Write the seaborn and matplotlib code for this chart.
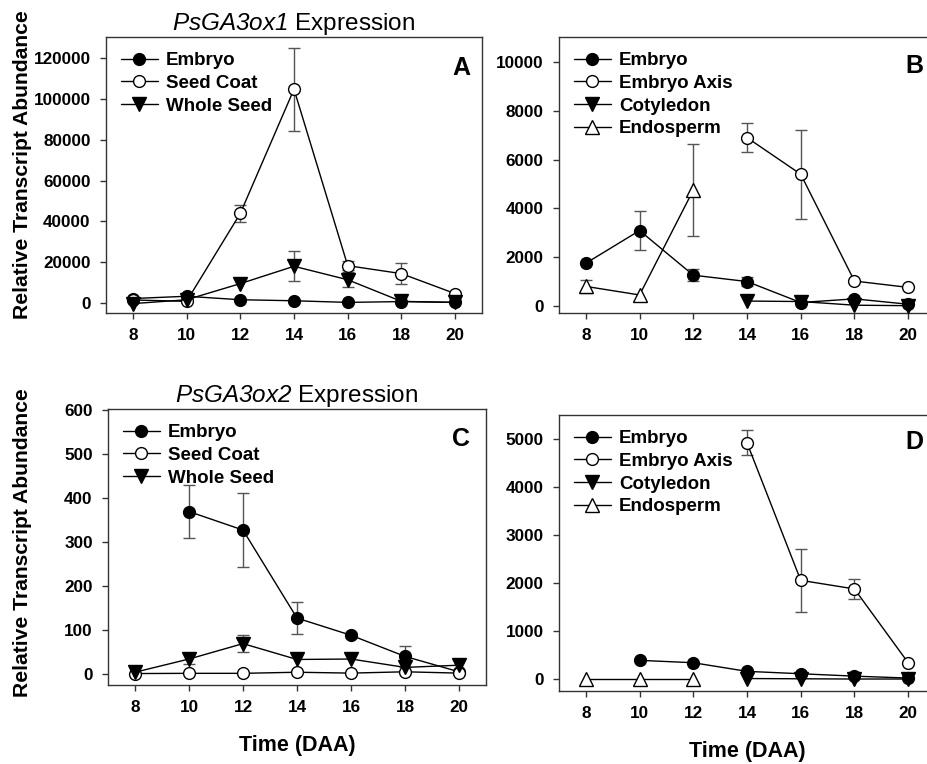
import numpy as np
import matplotlib
matplotlib.use('Agg')
import matplotlib.pyplot as plt
import seaborn as sns

nan = np.nan
days = [8, 10, 12, 14, 16, 18, 20]

# Panel A - PsGA3ox1 (embryo / seed coat / whole seed)
a_embryo = [2200, 3300, 1600, 1100, 300, 700, 300]
a_coat = [1500, 800, 43900, 104800, 18300, 14400, 4600]
a_coat_se = [nan, nan, 4300, 20300, 2200, 5200, 900]
a_whole = [-300, 1600, 9500, 18000, 11400, 800, 300]
a_whole_se = [nan, nan, nan, 7300, 3600, nan, nan]

# Panel B - PsGA3ox1 (embryo / axis / cotyledon / endosperm)
b_embryo = [1750, 3090, 1260, 1000, 140, 290, 70]
b_embryo_se = [nan, 800, 250, 200, nan, nan, nan]
b_axis = [nan, nan, nan, 6900, 5400, 1020, 760]
b_axis_se = [nan, nan, nan, 600, 1820, nan, nan]
b_coty = [nan, nan, nan, 200, 180, 30, 10]
b_endo = [800, 450, 4750, nan, nan, nan, nan]
b_endo_se = [280, nan, 1880, nan, nan, nan, nan]

# Panel C - PsGA3ox2 (embryo / seed coat / whole seed)
c_embryo = [nan, 369, 327, 127, 88, 40, 5]
c_embryo_se = [nan, 61, 84, 37, 6, 23, nan]
c_coat = [1, 1.5, 1.5, 4, 2, 5, 2]
c_whole = [4, 34, 69, 33, 34, 15, 20]
c_whole_se = [nan, 11, 19, nan, nan, nan, 14]

# Panel D - PsGA3ox2 (embryo / axis / cotyledon / endosperm)
d_embryo = [nan, 390, 340, 160, 110, 60, 20]
d_axis = [nan, nan, nan, 4930, 2060, 1880, 340]
d_axis_se = [nan, nan, nan, 260, 660, 210, nan]
d_coty = [nan, nan, nan, 10, 5, 0, 0]
d_endo = [10, 10, 10, nan, nan, nan, nan]

sns.set_style('ticks')
plt.rcParams['font.family'] = ['Liberation Sans', 'DejaVu Sans']
plt.rcParams['mathtext.fontset'] = 'custom'
plt.rcParams['mathtext.rm'] = 'Liberation Sans:italic'
plt.rcParams['mathtext.it'] = 'Liberation Sans:italic'
for k in ('text.color', 'axes.labelcolor', 'xtick.color', 'ytick.color'):
    plt.rcParams[k] = 'black'

fig = plt.figure(figsize=(9.28, 7.64), dpi=100)
W, H = 928, 764


def add_ax(left, top, right, bottom):
    return fig.add_axes([left / W, 1 - bottom / H, (right - left) / W, (bottom - top) / H])


def draw(ax, label, vals, se, marker, face, ms=8.5):
    y = np.array(vals, dtype=float)
    if se is not None:
        ax.errorbar(days, y, yerr=np.array(se, dtype=float), fmt='none', ecolor='#555555',
                    elinewidth=1, capsize=4, capthick=1, zorder=1)
    ok = ~np.isnan(y)
    sns.lineplot(x=np.array(days)[ok], y=y[ok], ax=ax, color='black', linewidth=1,
                 marker=marker, markersize=ms, markerfacecolor=face,
                 markeredgecolor='black', markeredgewidth=1, label=label,
                 errorbar=None, zorder=3)


def style(ax, ylim, yticks, letter, lx, ly):
    ax.set_xlim(7, 21)
    ax.set_ylim(*ylim)
    ax.set_xticks(days)
    ax.set_yticks(yticks)
    ax.tick_params(direction='out', length=4, width=1, pad=7, labelsize=12.3, color='#333333')
    for t in ax.get_xticklabels() + ax.get_yticklabels():
        t.set_fontweight('bold')
    for s in ax.spines.values():
        s.set_visible(True)
        s.set_color('#333333')
        s.set_linewidth(1)
    ax.set_xlabel('')
    ax.set_ylabel('')
    ax.legend(loc='upper left', frameon=False, prop={'weight': 'bold', 'size': 13.5},
              handlelength=1.95, handletextpad=0.45, labelspacing=0.3,
              borderaxespad=0.6, borderpad=0.2)
    ax.text(lx, ly, letter, transform=ax.transAxes, ha='right', va='top',
            fontsize=18, fontweight='bold')


axA = add_ax(106, 37, 482, 313)
draw(axA, 'Embryo', a_embryo, None, 'o', 'black')
draw(axA, 'Seed Coat', a_coat, a_coat_se, 'o', 'white')
draw(axA, 'Whole Seed', a_whole, a_whole_se, 'v', 'black', 9.5)
style(axA, (-4900, 130400), range(0, 120001, 20000), 'A', 0.968, 0.93)
axA.set_title(r'$PsGA3ox1$ Expression', fontsize=17.5, pad=4)

axB = add_ax(559, 37, 935, 313)
draw(axB, 'Embryo', b_embryo, b_embryo_se, 'o', 'black')
draw(axB, 'Embryo Axis', b_axis, b_axis_se, 'o', 'white')
draw(axB, 'Cotyledon', b_coty, None, 'v', 'black', 9.5)
draw(axB, 'Endosperm', b_endo, b_endo_se, '^', 'white', 9.5)
style(axB, (-290, 11025), range(0, 10001, 2000), 'B', 0.968, 0.94)

axC = add_ax(108, 409, 486, 685)
draw(axC, 'Embryo', c_embryo, c_embryo_se, 'o', 'black')
draw(axC, 'Seed Coat', c_coat, None, 'o', 'white')
draw(axC, 'Whole Seed', c_whole, c_whole_se, 'v', 'black', 9.5)
style(axC, (-25, 602), range(0, 601, 100), 'C', 0.958, 0.935)
axC.set_title(r'$PsGA3ox2$ Expression', fontsize=17.5, pad=4)
axC.set_xlabel('Time (DAA)', fontsize=15.5, fontweight='bold', labelpad=14)

axD = add_ax(559, 415, 935, 691)
draw(axD, 'Embryo', d_embryo, None, 'o', 'black')
draw(axD, 'Embryo Axis', d_axis, d_axis_se, 'o', 'white')
draw(axD, 'Cotyledon', d_coty, None, 'v', 'black', 9.5)
draw(axD, 'Endosperm', d_endo, None, '^', 'white', 9.5)
style(axD, (-250, 5510), range(0, 5001, 1000), 'D', 0.968, 0.945)
axD.set_xlabel('Time (DAA)', fontsize=15.5, fontweight='bold', labelpad=14)

for yc in (165, 543):
    fig.text(23 / W, 1 - yc / H, 'Relative Transcript Abundance', rotation=90,
             ha='center', va='center', fontsize=15.2, fontweight='bold')

fig.savefig('out.png', dpi=100)
